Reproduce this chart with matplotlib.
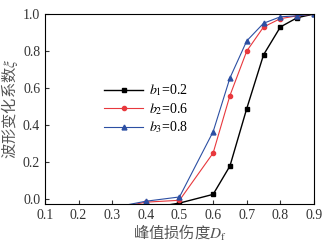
import numpy as np
import matplotlib
matplotlib.use('Agg')
import matplotlib.pyplot as plt

plt.rcParams['font.family'] = ['Liberation Serif', 'Noto Sans CJK SC']
plt.rcParams['mathtext.fontset'] = 'stix'

# damage degree D_f
damage = [0.3, 0.4, 0.5, 0.6, 0.65, 0.7, 0.75, 0.8, 0.85, 0.9]
# waveform change coefficient for each b
coef_b1 = [-0.06, -0.05, -0.02, 0.027, 0.18, 0.49, 0.78, 0.93, 0.98, 1.0]
coef_b2 = [-0.05, -0.015, -0.005, 0.25, 0.56, 0.80, 0.93, 0.975, 0.99, 1.0]
coef_b3 = [-0.045, -0.01, 0.013, 0.365, 0.655, 0.855, 0.95, 0.985, 0.99, 1.0]
labels = ['$b_1$=0.2', '$b_2$=0.6', '$b_3$=0.8']

fig = plt.figure(figsize=(3.35, 2.44), dpi=100)
ax = fig.add_axes([45 / 335, 40 / 244, 269 / 335, 190 / 244])

ax.plot(damage, coef_b1, color='black', marker='s', ms=3, lw=1.0, label=labels[0])
ax.plot(damage, coef_b2, color='#e8383d', marker='o', ms=3, lw=0.8, label=labels[1])
ax.plot(damage, coef_b3, color='#2c4fa3', marker='^', ms=3.5, lw=0.8, label=labels[2])

ax.set_xlim(0.1, 0.9)
ax.set_ylim(-0.025, 1.0)
ax.set_xticks(np.arange(0.1, 0.91, 0.1))
ax.set_yticks(np.arange(0.0, 1.01, 0.2))
ax.xaxis.set_major_formatter(matplotlib.ticker.FormatStrFormatter('%.1f'))
ax.yaxis.set_major_formatter(matplotlib.ticker.FormatStrFormatter('%.1f'))
ax.tick_params(direction='in', length=3, labelsize=10, colors='#333333')

cjk = ['Noto Sans CJK SC', 'Liberation Serif']
ax.set_xlabel('峰值损伤度$D_\\mathrm{f}$', fontsize=11, color='#555555',
              labelpad=1, family=cjk)
ax.set_ylabel('波形变化系数$\\xi$', fontsize=11, color='#555555',
              labelpad=2, family=cjk)

ax.legend(loc='center left', bbox_to_anchor=(0.22, 0.5), frameon=False,
          fontsize=10, handlelength=2.8, labelspacing=0.2, handletextpad=0.4,
          borderaxespad=0, borderpad=0)

fig.savefig('out.png', dpi=100)
